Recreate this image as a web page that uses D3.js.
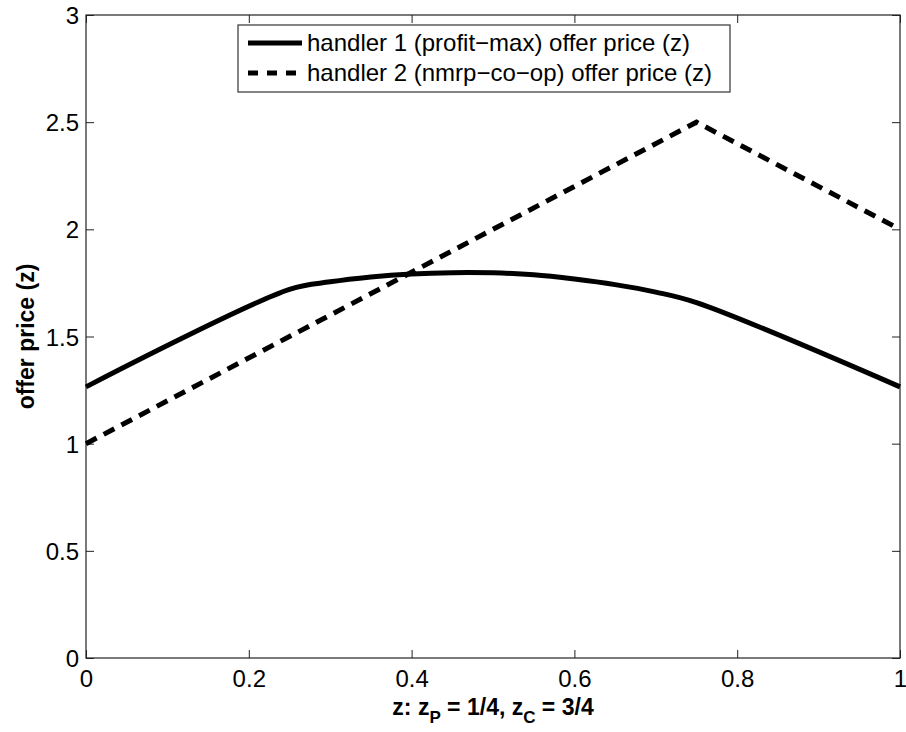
<!DOCTYPE html>
<html lang="en">
<head>
	<meta charset="UTF-8">
	<title>Offer price</title>
	<script src="https://cdn.jsdelivr.net/npm/d3@7"></script>
	<style>
		body { margin: 0; background: #fff; }
		text { font-family: "Liberation Sans", Arial, sans-serif; fill: #000; }
	</style>
</head>
<body>
	<div id="container"></div>
	<script>
		// data
		var z_h1 = [0, 0.25, 0.3, 0.35, 0.4, 0.45, 0.5, 0.55, 0.6, 0.65, 0.7, 0.75, 1];
		var price_h1 = [1.265, 1.72, 1.755, 1.778, 1.792, 1.798, 1.797, 1.788, 1.768, 1.742, 1.707, 1.658, 1.265];
		var z_h2 = [0, 0.75, 1];
		var price_h2 = [1, 2.5, 2];
		var xTicks = [0, 0.2, 0.4, 0.6, 0.8, 1];
		var yTicks = [0, 0.5, 1, 1.5, 2, 2.5, 3];
		var legendLabels = ["handler 1 (profit\u2212max) offer price (z)", "handler 2 (nmrp\u2212co\u2212op) offer price (z)"];

		var width = 906, height = 732;
		// plot box (window.top is read-only, so use other names)
		var pLeft = 86, pRight = 900, pTop = 15, pBottom = 658;

		var svg = d3.select("#container").append("svg")
				.attr("width", width)
				.attr("height", height);

		var x = d3.scaleLinear().domain([0, 1]).range([pLeft, pRight]);
		var y = d3.scaleLinear().domain([0, 3]).range([pBottom, pTop]);

		// box
		svg.append("rect")
				.attr("x", pLeft).attr("y", pTop)
				.attr("width", pRight - pLeft).attr("height", pBottom - pTop)
				.attr("fill", "none").attr("stroke", "#222").attr("stroke-width", 1.2);

		// axes with inward ticks (MATLAB style)
		var tickLen = 8;
		svg.append("g").attr("transform", "translate(0," + pBottom + ")")
			.call(d3.axisBottom(x).tickValues(xTicks).tickFormat(d3.format("")).tickSizeInner(-tickLen).tickSizeOuter(0).tickPadding(11))
			.call(g => g.select(".domain").remove())
			.call(g => g.selectAll("line").attr("stroke", "#222"))
			.call(g => g.selectAll("text").style("font-size", "24px").attr("dy", "0.75em"));
		svg.append("g").attr("transform", "translate(0," + pTop + ")")
			.call(d3.axisTop(x).tickValues(xTicks).tickFormat("").tickSizeInner(-tickLen).tickSizeOuter(0))
			.call(g => g.select(".domain").remove())
			.call(g => g.selectAll("line").attr("stroke", "#222"));
		svg.append("g").attr("transform", "translate(" + pLeft + ",0)")
			.call(d3.axisLeft(y).tickValues(yTicks).tickFormat(d3.format("")).tickSizeInner(-tickLen).tickSizeOuter(0).tickPadding(7))
			.call(g => g.select(".domain").remove())
			.call(g => g.selectAll("line").attr("stroke", "#222"))
			.call(g => g.selectAll("text").style("font-size", "24px").attr("dy", "0.36em"));
		svg.append("g").attr("transform", "translate(" + pRight + ",0)")
			.call(d3.axisRight(y).tickValues(yTicks).tickFormat("").tickSizeInner(-tickLen).tickSizeOuter(0))
			.call(g => g.select(".domain").remove())
			.call(g => g.selectAll("line").attr("stroke", "#222"));

		var h1 = z_h1.map((d, i) => [d, price_h1[i]]);
		var h2 = z_h2.map((d, i) => [d, price_h2[i]]);
		var line = d3.line().x(d => x(d[0])).y(d => y(d[1]));

		var plot = svg.append("g");
		plot.append("path").datum(h1)
				.attr("d", d3.line().x(d => x(d[0])).y(d => y(d[1])).curve(d3.curveCatmullRom.alpha(0.5)))
				.attr("fill", "none").attr("stroke", "#000").attr("stroke-width", 5)
				.attr("stroke-linejoin", "round");
		plot.append("path").datum(h2)
				.attr("d", line)
				.attr("fill", "none").attr("stroke", "#000").attr("stroke-width", 5)
				.attr("stroke-dasharray", "12,8");

		// legend
		var lg = svg.append("g");
		lg.append("rect")
				.attr("x", 238).attr("y", 25).attr("width", 492).attr("height", 67)
				.attr("fill", "#fff").attr("stroke", "#333").attr("stroke-width", 1.2);
		var styles = [null, "10,9"];
		legendLabels.forEach((t, i) => {
			var yy = 43 + i * 30;
			lg.append("line")
					.attr("x1", 248).attr("x2", 302).attr("y1", yy).attr("y2", yy)
					.attr("stroke", "#000").attr("stroke-width", 5)
					.attr("stroke-dasharray", styles[i]);
			lg.append("text")
					.attr("x", 307).attr("y", yy).attr("dy", "0.35em")
					.style("font-size", "24px")
					.text(t);
		});

		// axis labels
		var xl = svg.append("text")
				.attr("x", (pLeft + pRight) / 2).attr("y", 715)
				.attr("text-anchor", "middle")
				.style("font-size", "23px").style("font-weight", "bold");
		xl.append("tspan").text("z: z");
		xl.append("tspan").attr("dy", 8).style("font-size", "17px").text("P");
		xl.append("tspan").attr("dy", -8).text(" = 1/4, z");
		xl.append("tspan").attr("dy", 8).style("font-size", "17px").text("C");
		xl.append("tspan").attr("dy", -8).text(" = 3/4");

		svg.append("text")
				.attr("transform", "translate(34," + ((pTop + pBottom) / 2) + ") rotate(-90)")
				.attr("text-anchor", "middle")
				.style("font-size", "23px").style("font-weight", "bold")
				.text("offer price (z)");
	</script>
</body>
</html>
